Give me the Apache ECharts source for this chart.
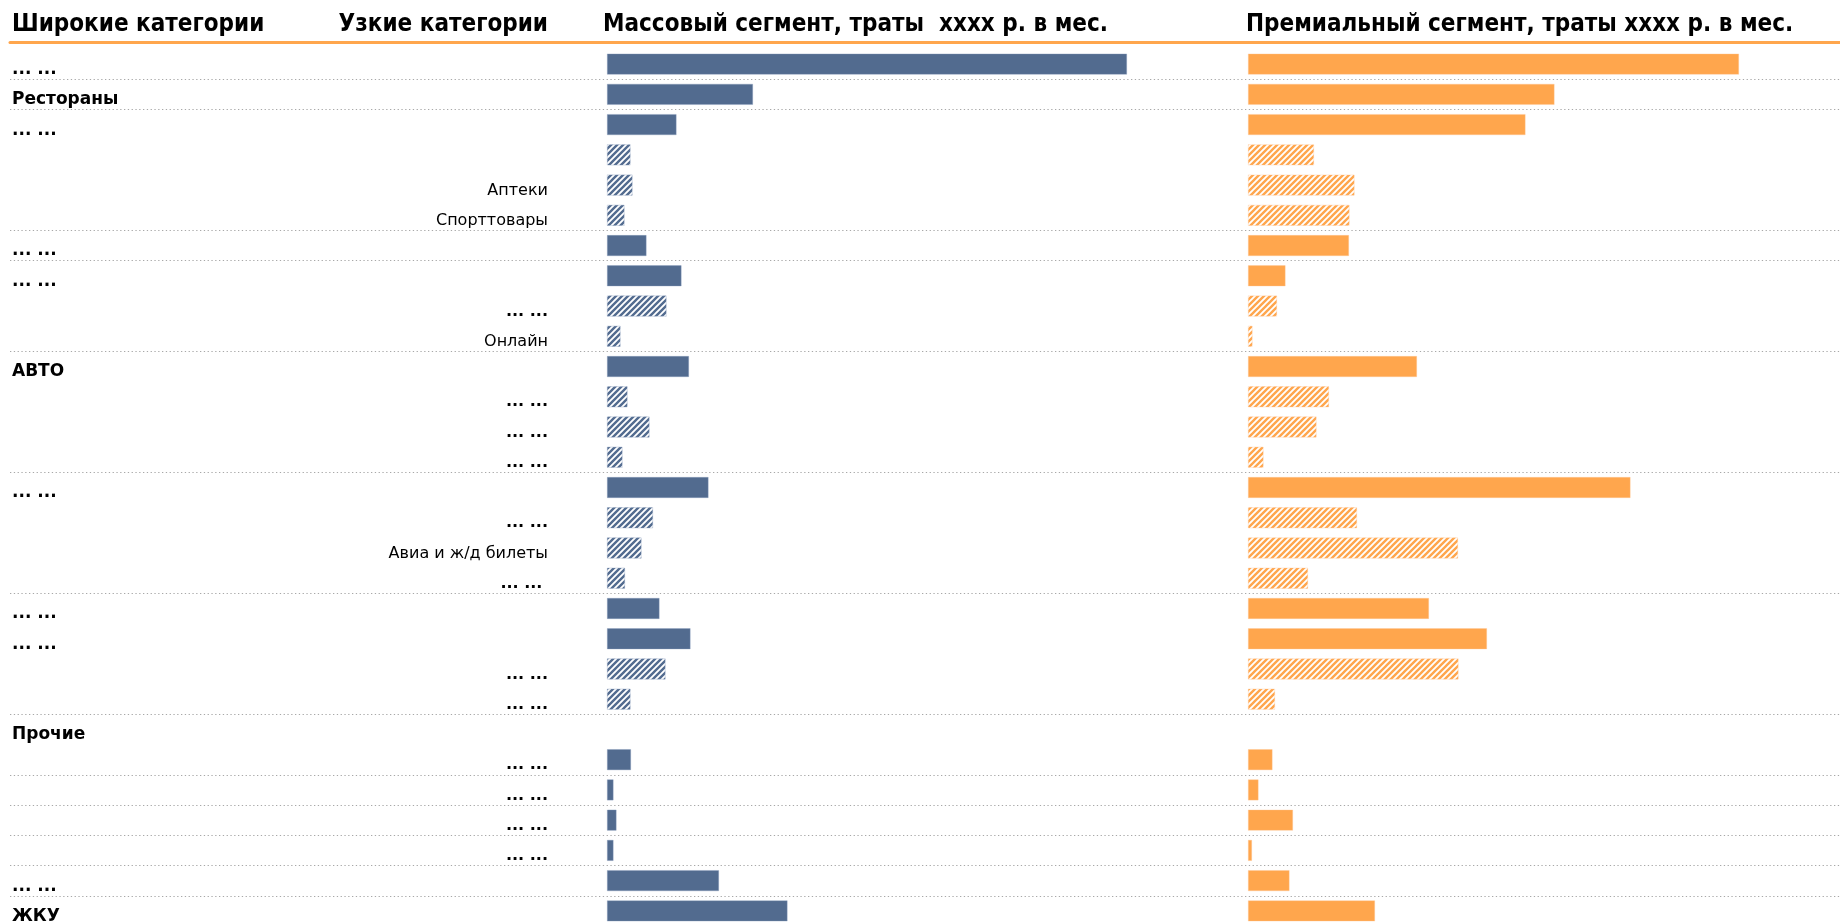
<!DOCTYPE html>
<html>
<head>
<meta charset="utf-8">
<script src="https://cdn.jsdelivr.net/npm/echarts@6/dist/echarts.min.js"></script>
<style>
html,body{margin:0;padding:0;background:#fff;width:1840px;height:923px;overflow:hidden;}
#chart{width:1840px;height:930px;}
</style>
</head>
<body>
<div id="chart"></div>
<script>
// ---------- DATA ----------
const broadLabels = ['... ...','Рестораны','... ...','','','','... ...','... ...','','','АВТО','','','','... ...','','','','... ...','... ...','','','Прочие','','','','','... ...','ЖКУ'];
const narrowLabels = ['','','','','Аптеки','Спорттовары','','','... ...','Онлайн','','... ...','... ...','... ...','','... ...','Авиа и ж/д билеты','... ... ','','','... ...','... ...','','... ...','... ...','... ...','... ...','',''];
const massValues = [104, 29.2, 13.9, 4.7, 5.1, 3.5, 7.9, 14.9, 11.9, 2.7, 16.4, 4.1, 8.5, 3.1, 20.3, 9.2, 6.9, 3.6, 10.5, 16.7, 11.7, 4.7, null, 4.8, 1.3, 1.9, 1.3, 22.4, 36.1];
const premiumValues = [98.2, 61.3, 55.5, 13.2, 21.3, 20.3, 20.2, 7.5, 5.8, 0.9, 33.8, 16.2, 13.7, 3.1, 76.5, 21.8, 42.0, 12.0, 36.2, 47.8, 42.1, 5.4, null, 4.9, 2.1, 9.0, 0.8, 8.3, 25.4];
const hatched = [0,0,0,1,1,1,0,0,1,1,0,1,1,1,0,1,1,1,0,0,1,1,0,0,0,0,0,0,0];
const separatorsAfterRow = [1, 2, 6, 7, 10, 14, 18, 22, 24, 25, 26, 27, 28];
const headers = ['Широкие категории', 'Узкие категории', 'Массовый сегмент, траты  xxxx р. в мес.', 'Премиальный сегмент, траты xxxx р. в мес.'];

// ---------- STYLE ----------
const BLUE = '#526b8f';
const ORANGE = '#ffa64d';
const FONT = 'DejaVu Sans';
const HFONT = '"DejaVu Sans Condensed", "DejaVu Sans"';

function hatch(color) {
  const c = document.createElement('canvas');
  c.width = 6; c.height = 6;
  const g = c.getContext('2d');
  g.fillStyle = '#fff'; g.fillRect(0, 0, 6, 6);
  g.strokeStyle = color; g.lineWidth = 2.4;
  g.beginPath();
  g.moveTo(-1, 7); g.lineTo(7, -1);
  g.moveTo(-4, 4); g.lineTo(4, -4);
  g.moveTo(2, 10); g.lineTo(10, 2);
  g.stroke();
  return c;
}
const blueHatch = { image: hatch(BLUE), repeat: 'repeat' };
const orangeHatch = { image: hatch(ORANGE), repeat: 'repeat' };

const rowIdx = massValues.map((_, i) => String(i));

function barData(values, solid, pattern) {
  return values.map((v, i) => ({
    value: v,
    itemStyle: { color: hatched[i] ? pattern : solid }
  }));
}

const chart = echarts.init(document.getElementById('chart'), null, { renderer: 'canvas' });

const hidden = { show: false };
const labelRich = {
  d: { fontWeight: 'bold', fontFamily: FONT, fontSize: 16, color: '#000' }
};
const broadRich = {
  b: { fontWeight: 'bold', fontFamily: FONT, fontSize: 17, color: '#000' }
};
const hStyle = { fontFamily: HFONT, fontSize: 24, fontWeight: 'bold', color: '#000' };
const TOP = 49, BOTTOM = 4;

const option = {
  backgroundColor: '#fff',
  animation: false,
  title: [
    { text: headers[0], left: 12, top: 13, padding: 0, textStyle: hStyle },
    { text: headers[1], right: 1840 - 548, top: 13, padding: 0, textStyle: hStyle },
    { text: headers[2], left: 603, top: 13, padding: 0, textStyle: hStyle },
    { text: headers[3], left: 1246, top: 13, padding: 0, textStyle: hStyle }
  ],
  grid: [
    { left: 10, right: 0, top: TOP, bottom: BOTTOM },
    { left: 556, width: 10, top: TOP, bottom: BOTTOM },
    { left: 607, width: 550, top: TOP, bottom: BOTTOM },
    { left: 1248, width: 550, top: TOP, bottom: BOTTOM }
  ],
  xAxis: [
    { gridIndex: 0, type: 'value', min: 0, max: 1, position: 'top', offset: 7,
      axisLine: { show: true, onZero: false, lineStyle: { color: ORANGE, width: 3 } },
      axisTick: hidden, axisLabel: hidden, splitLine: hidden },
    { gridIndex: 1, type: 'value', show: false },
    { gridIndex: 2, type: 'value', min: 0, max: 110, show: false },
    { gridIndex: 3, type: 'value', min: 0, max: 110, show: false }
  ],
  yAxis: [
    { gridIndex: 0, type: 'value', min: 0, max: 29, inverse: true, show: false },
    { gridIndex: 1, type: 'category', data: narrowLabels, inverse: true, position: 'left',
      axisLine: hidden, axisTick: hidden, splitLine: hidden,
      axisLabel: { interval: 0, margin: 8, padding: [11, 0, 0, 0], fontFamily: FONT, fontSize: 16, color: '#000',
        formatter: v => v.trim() === '... ...' ? '{d|' + v + '}' : v, rich: labelRich } },
    { gridIndex: 1, type: 'category', data: broadLabels, inverse: true, position: 'left',
      axisLine: hidden, axisTick: hidden, splitLine: hidden,
      axisLabel: { interval: 0, margin: 544, align: 'left', padding: [11, 0, 0, 0], fontFamily: FONT, fontSize: 17, fontWeight: 'bold', color: '#000',
        formatter: v => '{b|' + v + '}', rich: broadRich } },
    { gridIndex: 2, type: 'category', data: rowIdx, inverse: true, show: false },
    { gridIndex: 3, type: 'category', data: rowIdx, inverse: true, show: false }
  ],
  series: [
    { type: 'line', xAxisIndex: 0, yAxisIndex: 0, data: [], silent: true,
      markLine: {
        silent: true, symbol: ['none', 'none'], label: { show: false },
        lineStyle: { color: '#a8a8a8', width: 1, type: [1.3, 2.5] },
        data: separatorsAfterRow.map(r => ({ yAxis: r }))
      }
    },
    { type: 'bar', name: 'Массовый', xAxisIndex: 2, yAxisIndex: 3, barWidth: 21,
      data: barData(massValues, BLUE, blueHatch),
      itemStyle: { borderColor: 'rgba(140,160,190,0.6)', borderWidth: 0.6 } },
    { type: 'bar', name: 'Премиальный', xAxisIndex: 3, yAxisIndex: 4, barWidth: 21,
      data: barData(premiumValues, ORANGE, orangeHatch),
      itemStyle: { borderColor: 'rgba(255,200,150,0.6)', borderWidth: 0.6 } }
  ]
};
chart.setOption(option);
</script>
</body>
</html>
